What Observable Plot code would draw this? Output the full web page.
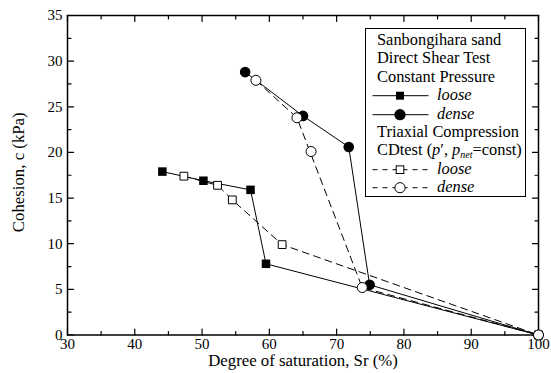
<!DOCTYPE html>
<html><head><meta charset="utf-8">
<script src="https://cdn.jsdelivr.net/npm/d3@7"></script>
<script src="https://cdn.jsdelivr.net/npm/@observablehq/plot@0.6"></script>
<style>
html,body{margin:0;padding:0;background:#fff;}
#wrap{position:relative;width:551px;height:373px;font-family:"Liberation Serif",Tinos,"Times New Roman",Times,"DejaVu Serif",serif;color:#000;}
#wrap svg text{font-family:"Liberation Serif",Tinos,"Times New Roman",Times,"DejaVu Serif",serif;}
#legend{position:absolute;left:365px;top:28px;width:161px;height:169px;box-sizing:border-box;border:1px solid #000;background:#fff;padding-top:2px;font-size:16.4px;line-height:18.4px;}
.row{height:18.4px;white-space:nowrap;position:relative;}
.txt{position:absolute;left:11px;top:0;}
.sw{position:absolute;left:6px;top:0;}
.lab{position:absolute;left:71px;top:0;font-style:italic;}
</style></head><body><div id="wrap"></div>
<script>
// ---- data ----
const dsLooseX = [44.1, 50.2, 57.2, 59.5, 100];
const dsLooseY = [17.9, 16.9, 15.9, 7.8, 0];
const dsDenseX = [56.4, 65.0, 71.8, 74.9, 100];
const dsDenseY = [28.8, 24.0, 20.6, 5.5, 0];
const tcLooseX = [47.3, 52.3, 54.5, 61.9, 100];
const tcLooseY = [17.4, 16.4, 14.8, 9.9, 0];
const tcDenseX = [58.0, 64.1, 66.2, 73.8, 100];
const tcDenseY = [27.9, 23.8, 20.1, 5.2, 0];
const tcDenseOnLine = [true, true, false, true, true];

const xTicks = [30, 40, 50, 60, 70, 80, 90, 100];
const xMinorTicks = [35, 45, 55, 65, 75, 85, 95];
const yTicks = [0, 5, 10, 15, 20, 25, 30, 35];
const yMinorTicks = [2.5, 7.5, 12.5, 17.5, 22.5, 27.5, 32.5];

const xTitle = "Degree of saturation, Sr (%)";
const yTitle = "Cohesion, c (kPa)";

const legendHeads1 = ["Sanbongihara sand", "Direct Shear Test", "Constant Pressure"];
const legendHead2 = "Triaxial Compression";
const legendLabels = ["loose", "dense"];

// ---- build ----
const pts = (xs, ys, flags) => xs.map((x, i) => ({x, y: ys[i], on: flags ? flags[i] : true}));
const dsLoose = pts(dsLooseX, dsLooseY);
const dsDense = pts(dsDenseX, dsDenseY);
const tcLoose = pts(tcLooseX, tcLooseY);
const tcDense = pts(tcDenseX, tcDenseY, tcDenseOnLine);

const font = '"Liberation Serif", Tinos, "Times New Roman", Times, "DejaVu Serif", serif';
const tickShape = {draw(ctx, l) { ctx.moveTo(0, 0); ctx.lineTo(0, -l); }};
function tickMarks(vals, len, axis) {
  const common = {length: len, anchor: "start", shape: tickShape, stroke: "black", strokeWidth: 1.2};
  if (axis === "x") return [
    Plot.vector(vals, {x: d => d, frameAnchor: "bottom", rotate: 0, ...common}),
    Plot.vector(vals, {x: d => d, frameAnchor: "top", rotate: 180, ...common})
  ];
  return [
    Plot.vector(vals, {y: d => d, frameAnchor: "left", rotate: 90, ...common}),
    Plot.vector(vals, {y: d => d, frameAnchor: "right", rotate: -90, ...common})
  ];
}

const plot = Plot.plot({
  width: 551, height: 373,
  marginLeft: 67, marginRight: 13, marginTop: 15, marginBottom: 38.5,
  x: {domain: [30, 100]},
  y: {domain: [0, 35]},
  style: {fontFamily: font, fontSize: "15px", color: "black", background: "white", overflow: "visible"},
  marks: [
    Plot.axisX({ticks: xTicks, tickSize: 0, tickPadding: 3, label: null, fontSize: 15, fontFamily: font}),
    Plot.axisY({ticks: yTicks, tickSize: 0, tickPadding: 5, label: null, fontSize: 15, fontFamily: font}),
    ...tickMarks(xTicks, 6, "x"),
    ...tickMarks(xMinorTicks, 3.5, "x"),
    ...tickMarks(yTicks, 6, "y"),
    ...tickMarks(yMinorTicks, 3.5, "y"),
    Plot.text([xTitle], {text: d => d, frameAnchor: "bottom", textAnchor: "middle", lineAnchor: "middle", dy: 25.5, fontSize: 16.8, fontFamily: font}),
    Plot.text([yTitle], {text: d => d, frameAnchor: "left", textAnchor: "middle", lineAnchor: "middle", rotate: -90, dx: -49, dy: -3, fontSize: 16.8, fontFamily: font}),
    Plot.line(dsLoose, {x: "x", y: "y", stroke: "black", strokeWidth: 1}),
    Plot.line(dsDense, {x: "x", y: "y", stroke: "black", strokeWidth: 1}),
    Plot.line(tcLoose, {x: "x", y: "y", stroke: "black", strokeWidth: 1, strokeDasharray: "7,5"}),
    Plot.line(tcDense.filter(d => d.on), {x: "x", y: "y", stroke: "black", strokeWidth: 1, strokeDasharray: "7,5"}),
    Plot.frame({stroke: "black", strokeWidth: 1.5}),
    Plot.dot(dsLoose, {x: "x", y: "y", symbol: "square", r: 4.8, fill: "black", stroke: "none"}),
    Plot.dot(dsDense, {x: "x", y: "y", symbol: "circle", r: 5.3, fill: "black", stroke: "none"}),
    Plot.dot(tcLoose, {x: "x", y: "y", symbol: "square", r: 4.4, fill: "white", stroke: "black", strokeWidth: 1}),
    Plot.dot(tcDense, {x: "x", y: "y", symbol: "circle", r: 5, fill: "white", stroke: "black", strokeWidth: 1})
  ]
});

const wrap = document.getElementById("wrap");
wrap.appendChild(plot);

// ---- legend ----
const legend = document.createElement("div");
legend.id = "legend";
function textRow(html) {
  const r = document.createElement("div"); r.className = "row";
  const t = document.createElement("span"); t.className = "txt"; t.innerHTML = html;
  r.appendChild(t); legend.appendChild(r);
}
function swatchRow(label, dashed, shape, filled) {
  const r = document.createElement("div"); r.className = "row";
  const ns = "http://www.w3.org/2000/svg";
  const svg = document.createElementNS(ns, "svg");
  svg.setAttribute("width", 58); svg.setAttribute("height", 18.4); svg.setAttribute("class", "sw");
  const ln = document.createElementNS(ns, "line");
  ln.setAttribute("x1", 0.5); ln.setAttribute("x2", 56.5); ln.setAttribute("y1", 9.7); ln.setAttribute("y2", 9.7);
  ln.setAttribute("stroke", "black"); ln.setAttribute("stroke-width", 1);
  if (dashed) { ln.setAttribute("stroke-dasharray", "5,5"); }
  svg.appendChild(ln);
  let m;
  if (shape === "square") {
    const s = filled ? 8 : 7.6;
    m = document.createElementNS(ns, "rect");
    m.setAttribute("x", 28 - s / 2); m.setAttribute("y", 9.7 - s / 2); m.setAttribute("width", s); m.setAttribute("height", s);
  } else {
    m = document.createElementNS(ns, "circle");
    m.setAttribute("cx", 28); m.setAttribute("cy", 9.7); m.setAttribute("r", filled ? 5.6 : 5.1);
  }
  m.setAttribute("fill", filled ? "black" : "white");
  m.setAttribute("stroke", filled ? "none" : "black");
  svg.appendChild(m);
  r.appendChild(svg);
  const t = document.createElement("span"); t.className = "lab"; t.textContent = label;
  r.appendChild(t);
  legend.appendChild(r);
}
legendHeads1.forEach(h => textRow(h));
swatchRow(legendLabels[0], false, "square", true);
swatchRow(legendLabels[1], false, "circle", true);
textRow(legendHead2);
textRow('CDtest (<i>p</i>\u2032, <i>p</i><sub style="font-size:10px;vertical-align:-3px;line-height:0"><i>net</i></sub>=const)');
swatchRow(legendLabels[0], true, "square", false);
swatchRow(legendLabels[1], true, "circle", false);
wrap.appendChild(legend);
</script></body></html>
